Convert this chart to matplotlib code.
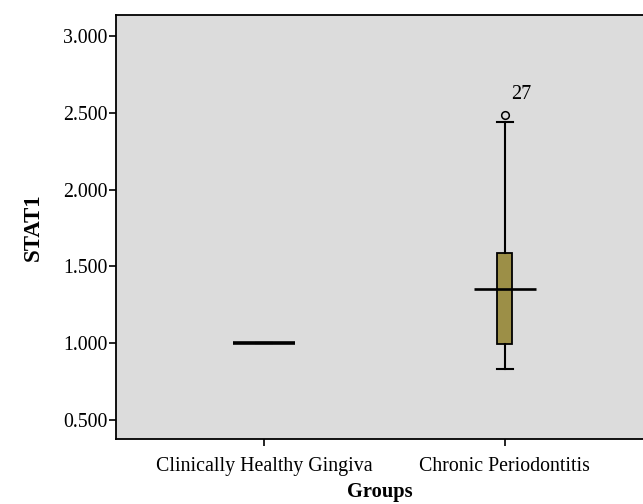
import matplotlib
matplotlib.use("Agg")
import matplotlib.pyplot as plt

groups = ["Clinically Healthy Gingiva", "Chronic Periodontitis"]
q1 = [1.000, 0.995]
med = [1.000, 1.355]
q3 = [1.000, 1.585]
whislo = [1.000, 0.835]
whishi = [1.000, 2.442]
fliers = [[], [2.487]]
flier_labels = [[], ["27"]]
yticks = [0.5, 1.0, 1.5, 2.0, 2.5, 3.0]

plt.rcParams['font.family'] = ['Liberation Serif', 'DejaVu Serif']

fig = plt.figure(figsize=(6.43, 5.04), dpi=100)
ax = fig.add_axes([116/643, 1-439/504, 1-116/643, (439-15)/504])
ax.set_facecolor('#dcdcdc')

pos = [1, 2]
stats = []
for i in range(len(groups)):
    stats.append(dict(label=groups[i], q1=q1[i], med=med[i], q3=q3[i],
                      whislo=whislo[i], whishi=whishi[i], fliers=fliers[i]))
ax.bxp(stats, positions=pos, widths=0.062, patch_artist=True, showfliers=True,
       boxprops=dict(facecolor='#9c8f47', edgecolor='black', linewidth=1.3),
       whiskerprops=dict(color='black', linewidth=1.5),
       capprops=dict(color='black', linewidth=1.5),
       capwidths=0.066,
       medianprops=dict(linewidth=0),
       flierprops=dict(marker='o', markersize=5.5, markerfacecolor='none',
                       markeredgecolor='black', markeredgewidth=1.1))
for i, p in enumerate(pos):
    ax.hlines(med[i], p - 0.128, p + 0.128, color='black', linewidth=1.9 if i else 2.6, zorder=5)
    for v, lab in zip(fliers[i], flier_labels[i]):
        ax.annotate(lab, (p, v), xytext=(4.5, 7.5), textcoords='offset points',
                    fontsize=14.5, ha='left', va='bottom')

ax.set_xlim(0.386, 2.573)
ax.set_ylim(0.376, 3.137)
ax.set_yticks(yticks)
ax.set_yticklabels([f"{v:.3f}" for v in yticks])
ax.set_xticks(pos)
ax.set_xticklabels(groups)
ax.tick_params(axis='both', labelsize=14.3, direction='out', length=5, width=1.2, color='black')
ax.tick_params(axis='y', pad=1)
ax.tick_params(axis='x', pad=8)
ax.spines['right'].set_visible(False)
for s in ['left', 'top', 'bottom']:
    ax.spines[s].set_linewidth(1.3)
ax.set_ylabel("STAT1", fontsize=16.5, fontweight='bold', labelpad=14)
ax.set_xlabel("Groups", fontsize=14.8, fontweight='bold', labelpad=4)

fig.savefig("out.png", dpi=100)
